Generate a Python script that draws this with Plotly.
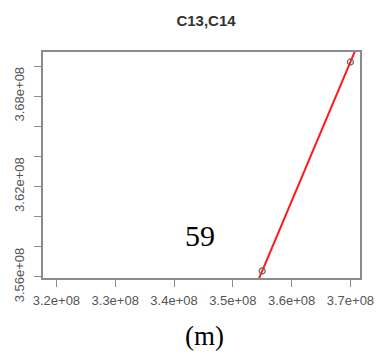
import numpy as np
import plotly.graph_objects as go

# Data
x_vals = [3.55e8, 3.70e8]
y_vals = [3.5640e8, 3.7027e8]
x_tickvals = [3.2e8, 3.3e8, 3.4e8, 3.5e8, 3.6e8, 3.7e8]
x_ticktext = ["3.2e+08", "3.3e+08", "3.4e+08", "3.5e+08", "3.6e+08", "3.7e+08"]
y_tickvals = [3.56e8, 3.58e8, 3.60e8, 3.62e8, 3.64e8, 3.66e8, 3.68e8, 3.70e8]
y_ticktext = ["3.56e+08", "", "", "3.62e+08", "", "", "3.68e+08", ""]
title_text = "C13,C14"
panel_number = "59"
panel_label = "(m)"

x_range = [3.1772e8, 3.7163e8]
y_range = [3.5593e8, 3.7093e8]

# fitted line through the points, extended over the axis range
slope, intercept = np.polyfit(x_vals, y_vals, 1)
line_x = np.array(x_range)
line_y = slope * line_x + intercept

fig = go.Figure()
fig.add_trace(go.Scatter(x=line_x, y=line_y, mode="lines",
                         line=dict(color="#ff1a1a", width=2), showlegend=False,
                         hoverinfo="skip"))
fig.add_trace(go.Scatter(x=x_vals, y=y_vals, mode="markers",
                         marker=dict(symbol="circle-open", size=6,
                                     color="#666666", line=dict(width=1.2)),
                         showlegend=False, cliponaxis=False))

axis_common = dict(showline=True, linecolor="#8c8c8c", linewidth=1.5, mirror=True,
                   showgrid=False, zeroline=False, ticks="outside",
                   tickcolor="#8c8c8c", tickwidth=1.3,
                   tickfont=dict(family="Liberation Sans, Arial", size=13,
                                 color="#555555"))

fig.update_xaxes(range=x_range, tickmode="array", tickvals=x_tickvals,
                 ticktext=x_ticktext, ticklen=7, ticklabelstandoff=3, **axis_common)
fig.update_yaxes(range=y_range, tickmode="array", tickvals=y_tickvals,
                 ticktext=y_ticktext, ticklen=7, tickangle=-90,
                 ticklabelstandoff=5, **axis_common)

fig.update_layout(
    width=386, height=354,
    margin=dict(l=41, r=14, t=52, b=76),
    paper_bgcolor="white", plot_bgcolor="white",
    title=dict(text="<b>" + title_text + "</b>", x=206 / 386, xanchor="center",
               y=1 - 20.5 / 354, yanchor="middle",
               font=dict(family="Liberation Sans, Arial", size=15, color="#333333")),
    annotations=[
        dict(text=panel_number, xref="paper", yref="paper",
             x=(204.5 - 41) / 331, y=(278 - 235) / 226, xanchor="center", yanchor="middle",
             showarrow=False, font=dict(family="Liberation Serif, serif", size=30, color="black")),
        dict(text=panel_label, xref="paper", yref="paper",
             x=(210 - 41) / 331, y=(278 - 336) / 226, xanchor="center", yanchor="middle",
             showarrow=False, font=dict(family="Liberation Serif, serif", size=27, color="black")),
    ],
)

fig.write_html("out.html")
